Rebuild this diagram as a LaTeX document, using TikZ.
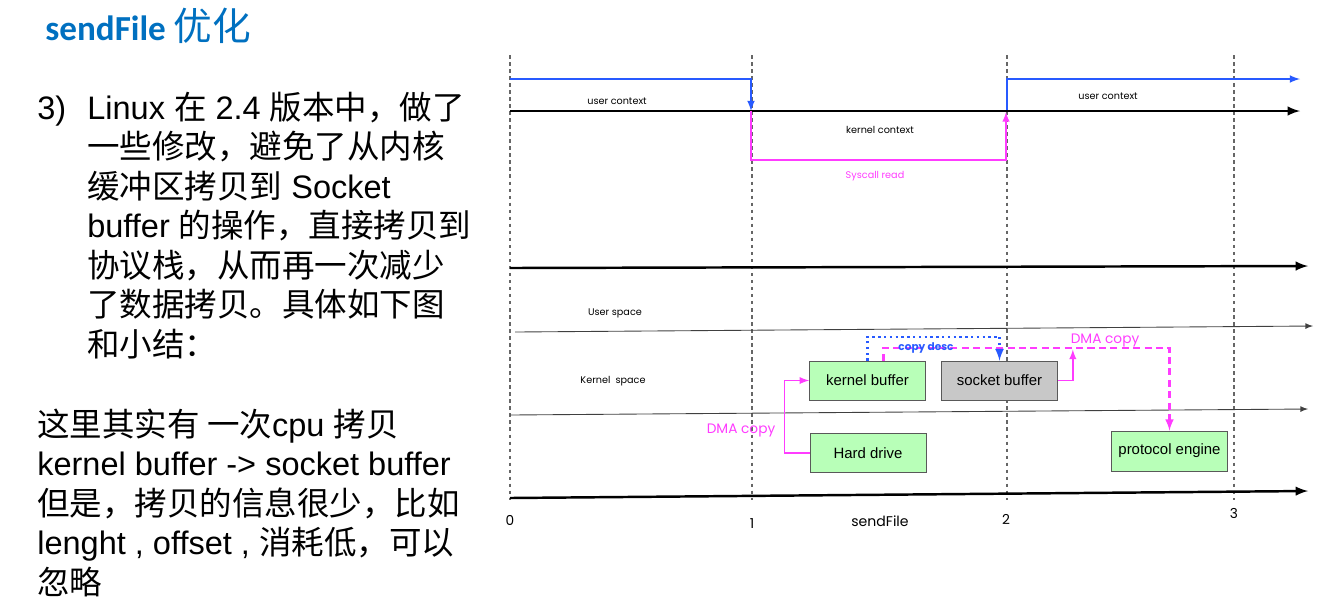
\documentclass[tikz,border=0pt]{standalone}
\usepackage{fontspec}
\setmainfont{Liberation Sans}
\newfontfamily\cjk{Noto Sans CJK SC}
\newfontfamily\geofont{Poppins}
\newfontfamily\titlefont{Carlito}
\usetikzlibrary{arrows}
\definecolor{titleblue}{RGB}{0,112,192}
\definecolor{ctxblue}{RGB}{40,90,255}
\definecolor{dmapink}{RGB}{255,60,255}
\definecolor{boxgreen}{RGB}{184,255,184}
\definecolor{boxgray}{RGB}{200,200,200}
\newcommand{\zh}[1]{{\cjk #1}}

\tikzset{
  txtline/.style={anchor=base west,inner sep=0pt,font=\fontsize{18.5}{22}\selectfont},
  tickline/.style={dash pattern=on 2pt off 2pt,gray!80!black,line width=0.6pt},
  axisline/.style={-latex,line width=1.4pt},
  laneline/.style={-latex,line width=0.5pt,black!75},
  lbl/.style={font=\geofont\fontsize{5.5}{6}\selectfont},
  numlbl/.style={font=\geofont\fontsize{7.8}{8}\selectfont},
  buf/.style={draw=gray!70!black,fill=boxgreen,minimum width=2.32cm,minimum height=0.78cm,
    inner sep=0pt,font=\fontsize{8.5}{9}\selectfont},
  pinkline/.style={draw=dmapink,line width=0.9pt},
}

\begin{document}
\begin{tikzpicture}[x=0.02cm,y=-0.02cm]
  \useasboundingbox (0,0) rectangle (1333,600);
  % title and notes
  \node[anchor=base west,inner sep=0pt,text=titleblue,font=\titlefont\bfseries\fontsize{20}{24}\selectfont] (title) at (45,40) {sendFile {\mdseries\cjk\fontsize{22}{24}\selectfont 优化}};
  \node[txtline] (num) at (37,119) {3)};
  \node[txtline] (l1) at (87,119) {Linux \zh{在} 2.4 \zh{版本中，做了}};
  \node[txtline] (l2) at (87,158.5) {\zh{一些修改，避免了从内核}};
  \node[txtline] (l3) at (87,198) {\zh{缓冲区拷贝到} Socket};
  \node[txtline] (l4) at (87,237.5) {buffer \zh{的操作，直接拷贝到}};
  \node[txtline] (l5) at (87,277) {\zh{协议栈，从而再一次减少}};
  \node[txtline] (l6) at (87,316.5) {\zh{了数据拷贝。具体如下图}};
  \node[txtline] (l7) at (87,356) {\zh{和小结：}};
  \node[txtline] (n1) at (37,436) {\zh{这里其实有 一次}cpu \zh{拷贝}};
  \node[txtline] (n2) at (37,475.5) {kernel buffer -> socket buffer};
  \node[txtline] (n3) at (37,515) {\zh{但是，拷贝的信息很少，比如}};
  \node[txtline] (n4) at (37,554.5) {lenght , offset , \zh{消耗低，可以}};
  \node[txtline] (n5) at (37,594) {\zh{忽略}};

  % time ticks
  \draw[tickline] (510,55) -- (510,500);
  \draw[tickline] (752,55) -- (752,500);
  \draw[tickline] (1007,55) -- (1007,500);
  \draw[tickline] (1234,55) -- (1234,500);

  % context switches
  \draw[ctxblue,line width=1pt,-latex] (510,79) -- (751,79) -- (751,111);
  \draw[ctxblue,line width=1pt,-latex] (1007,111) -- (1007,79) -- (1300,79);
  \draw[axisline] (510,111) -- (1300,111);
  \draw[pinkline,-latex] (751,111) -- (751,160) -- (1006,160) -- (1006,112);
  \node[lbl] (uc1) at (617,101) {user context};
  \node[lbl] (kc) at (880,130) {kernel context};
  \node[lbl] (uc2) at (1108,96) {user context};
  \node[lbl,text=dmapink] (sys) at (875,176) {Syscall read};

  % spaces
  \draw[axisline] (510,268) -- (1308,266);
  \draw[laneline] (515,332) -- (1313,326);
  \draw[laneline] (510,415) -- (1308,409);
  \draw[axisline] (510,498) -- (1308,491);
  \node[lbl] (us) at (615,313) {User space};
  \node[lbl] (ks) at (613,381) {Kernel\ \ space};

  % buffers
  \node[buf] (kb) at (867.5,380.5) {kernel buffer};
  \node[buf,fill=boxgray] (sb) at (999.5,380.5) {socket buffer};
  \node[buf] (hd) at (868,453) {Hard drive};
  \node[buf,minimum height=0.8cm] (pe) at (1169.5,451) {protocol engine};

  \draw[pinkline,-latex] (hd.west) -- ++(-25,0) |- (kb.west);
  \draw[pinkline,line width=1.2pt,dash pattern=on 4pt off 2.5pt,-latex] ([xshift=0.32cm]kb.north) -- ++(0,-13) -| (pe.north);
  \draw[ctxblue,line width=1.3pt,dotted,-latex] (kb.north) -- ++(0,-24) -| (sb.north);
  \draw[pinkline,-latex] (sb.east) -- ++(15,0) -- ++(0,-31);
  \node[numlbl,text=dmapink] (dma1) at (741,430) {DMA copy};
  \node[numlbl,text=dmapink] (dma2) at (1105,340) {DMA copy};
  \node[lbl,text=ctxblue,font=\geofont\bfseries\fontsize{6}{6}\selectfont] (desc) at (926,348) {copy desc};

  % axis labels
  \node[numlbl] (x0) at (510,520) {0};
  \node[numlbl] (x1) at (752,524) {1};
  \node[numlbl] (x2) at (1006,519) {2};
  \node[numlbl] (x3) at (1234,513) {3};
  \node[numlbl,font=\geofont\fontsize{8}{8}\selectfont] (sf) at (880,521) {sendFile};
\end{tikzpicture}
\end{document}
